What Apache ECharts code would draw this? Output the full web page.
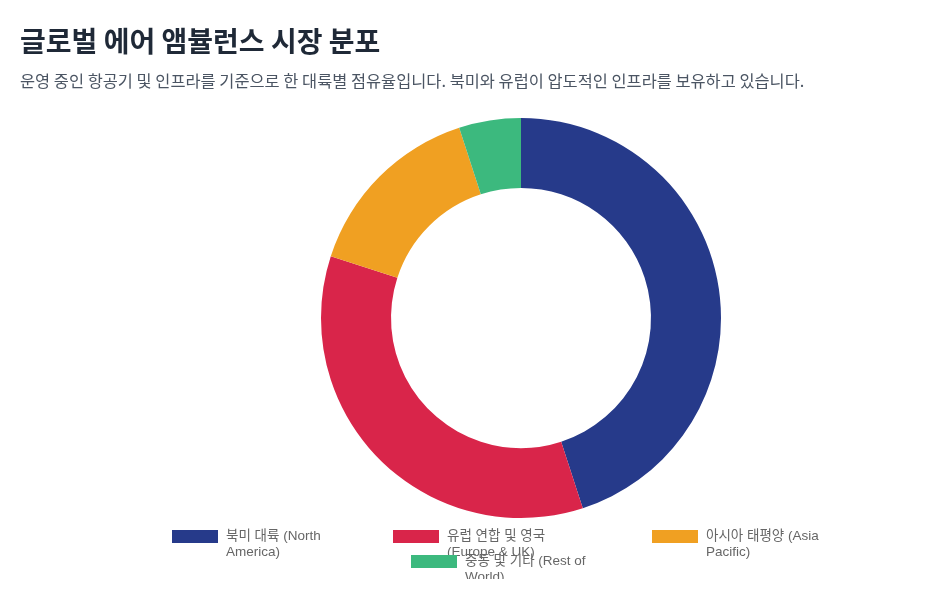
<!DOCTYPE html>
<html><head><meta charset="utf-8">
<script src="https://cdn.jsdelivr.net/npm/echarts@6/dist/echarts.min.js"></script>
<style>
html,body{margin:0;padding:0;background:#fff;}
#c{width:940px;height:579px;overflow:hidden;}
</style></head>
<body>
<div id="c"></div>
<script>
const titleText = '글로벌 에어 앰뷸런스 시장 분포';
const subtitleText = '운영 중인 항공기 및 인프라를 기준으로 한 대륙별 점유율입니다. 북미와 유럽이 압도적인 인프라를 보유하고 있습니다.';
const categories = ['북미 대륙 (North America)', '유럽 연합 및 영국 (Europe & UK)', '아시아 태평양 (Asia Pacific)', '중동 및 기타 (Rest of World)'];
const values = [45, 35, 15, 5];
const colors = ['#263a8a', '#d9254a', '#f0a022', '#3cb97e'];

const legendPos = [[172, 530], [393, 530], [652, 530], [411, 555]];
const latin = '"Liberation Sans", Arial, "Noto Sans CJK KR", sans-serif';

const chart = echarts.init(document.getElementById('c'), null, {renderer: 'canvas'});
const legends = categories.map((name, i) => ({
  data: [name],
  orient: 'horizontal',
  left: legendPos[i][0],
  top: legendPos[i][1] - 17.5,
  padding: 0,
  itemWidth: 49,
  itemHeight: 13,
  itemGap: 0,
  symbolKeepAspect: false,
  itemStyle: {borderWidth: 0},
  icon: 'path://M0,0L46,0L46,13L0,13Z M49,13L49,13',
  selectedMode: false,
  formatter: n => '\n' + n,
  textStyle: {
    color: '#666',
    fontSize: 13.5,
    fontFamily: latin,
    width: 132,
    overflow: 'break',
    lineHeight: 16
  }
}));

chart.setOption({
  animation: false,
  color: colors,
  title: [{
    text: titleText,
    left: 20,
    top: 27,
    padding: 0,
    textStyle: {fontSize: 28, fontWeight: 'bold', color: '#1f2937', fontFamily: '"Noto Sans CJK KR", sans-serif'}
  }, {
    text: subtitleText,
    left: 20,
    top: 73,
    padding: 0,
    textStyle: {fontSize: 16.4, fontWeight: 'normal', color: '#4b5563', fontFamily: '"Noto Sans CJK KR", sans-serif'}
  }],
  legend: legends,
  series: [{
    type: 'pie',
    center: [521, 318],
    radius: [130, 200],
    startAngle: 90,
    clockwise: true,
    label: {show: false},
    labelLine: {show: false},
    itemStyle: {borderWidth: 0},
    emphasis: {disabled: true},
    data: categories.map((n, i) => ({name: n, value: values[i]}))
  }]
});
</script>
</body></html>
